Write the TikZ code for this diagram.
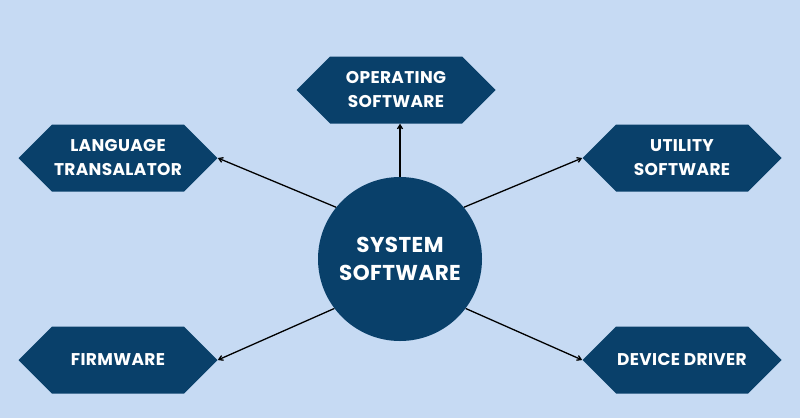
\documentclass[tikz,border=0pt]{standalone}
\usepackage{fontspec}
\setmainfont{Poppins}[LetterSpace=2]
\usetikzlibrary{shapes.symbols,arrows.meta}

\definecolor{bgblue}{RGB}{198,218,243}
\definecolor{navy}{RGB}{9,64,106}

\begin{document}
\begin{tikzpicture}[%
        x = 1pt, y = -1pt,
        hexbox/.style = {signal, signal to=east and west, signal pointer angle=90,
            fill=navy, text=white, inner sep=0pt, align=center,
            minimum width=199pt, minimum height=67pt,
            font=\bfseries\fontsize{17}{24}\selectfont},
        hub/.style = {circle, fill=navy, text=white, align=center,
            minimum size=164pt, inner sep=0pt,
            font=\bfseries\fontsize{21.5}{28}\selectfont},
        link/.style = {-{Straight Barb[length=4pt,width=5pt]}, line width=1.3pt, black}
    ]
      \fill[bgblue] (0,0) rectangle (800,418);
      \useasboundingbox (0,0) rectangle (800,418);
      \node[hub] (sys) at (400,259) {SYSTEM\\SOFTWARE};
      \node[hexbox] (op) at (396,90) {OPERATING\\SOFTWARE};
      \node[hexbox] (lt) at (118,158) {LANGUAGE\\TRANSALATOR};
      \node[hexbox] (ut) at (682,158) {UTILITY\\SOFTWARE};
      \node[hexbox] (fw) at (118,360) {FIRMWARE};
      \node[hexbox] (dd) at (682,360) {DEVICE DRIVER};
      \draw[link] (sys.north) -- (sys.north |- op.south);
      \draw[link] (sys.141) -- (lt.east);
      \draw[link] (sys.39) -- (ut.west);
      \draw[link] (sys.217) -- (fw.east);
      \draw[link] (sys.323) -- (dd.west);
    \end{tikzpicture}
\end{document}
